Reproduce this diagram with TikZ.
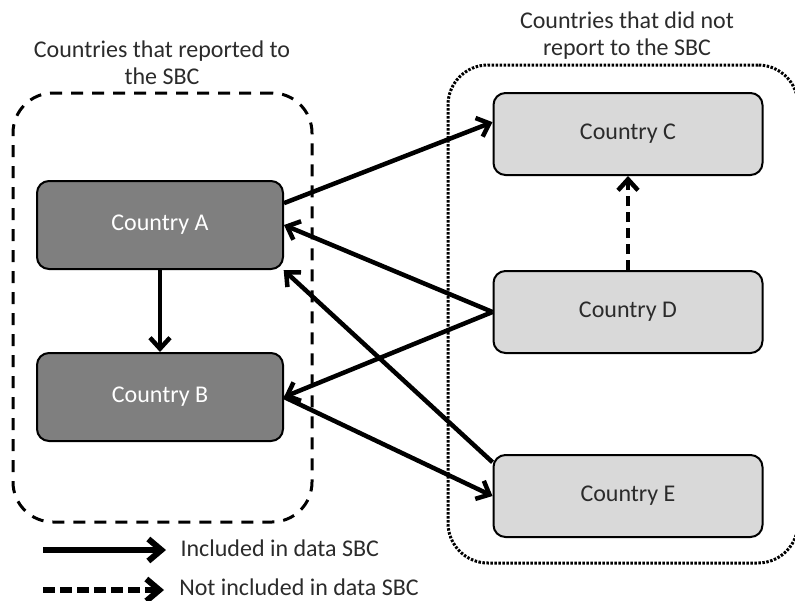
\documentclass[tikz,border=0pt]{standalone}
\usepackage{fontspec}
\setmainfont{Carlito}
\usetikzlibrary{arrows.meta,positioning}

\definecolor{darkbox}{HTML}{7F7F7F}
\definecolor{lightbox}{HTML}{D9D9D9}
\definecolor{labeltext}{HTML}{2B2B2B}

\begin{document}
\begin{tikzpicture}[
    x = 1pt, y = -1pt, % pixel units, y grows downwards
    > = {Straight Barb[length=11pt,width=20pt]}, % arrow head style
    line width = 4.5pt, % line style
    font = \fontsize{24}{27}\selectfont,
    node distance = 82pt % distance between nodes
    ]

    \tikzset{
    country/.style = {draw = black, line width = 2pt, rounded corners = 12pt,
        minimum width = 246pt, minimum height = 88pt},
    reported/.style = {country, fill = darkbox, text = white},
    notreported/.style = {country, fill = lightbox, text = labeltext,
        minimum width = 269pt, minimum height = 82pt},
    group/.style = {draw = black, rounded corners = 40pt, line width = 3pt, inner sep = 0pt},
    heading/.style = {align = center, text = labeltext}
    }
    \useasboundingbox (0,0) rectangle (795,600);

    % the two groups of countries
    \node[group, dash pattern = on 12pt off 9pt,
        minimum width = 299pt, minimum height = 429pt] (reportgroup) at (162.5,307.5) {};
    \node[group, dash pattern = on 2.5pt off 1.5pt,
        minimum width = 350pt, minimum height = 498pt] (silentgroup) at (623,314) {};
    \node[heading] (reporttitle) at (162,63) {Countries that reported to\\the SBC};
    \node[heading] (silenttitle) at (627,36) {Countries that did not\\report to the SBC};

    \node[reported] (A) at (160,225) {Country A};
    \node[reported] (B) [below=of A] {Country B};
    \node[notreported] (C) at (628,134) {Country C};
    \node[notreported] (D) [below=94pt of C] {Country D};
    \node[notreported] (E) [below=100pt of D] {Country E};

    \path[->] (A.10) edge (C.175);
    \path[->] (D.west) edge (A.east);
    \path[->] (D.west) edge (B.east);
    \path[->] (E.166) edge (A.-20);
    \path[->] (B.east) edge (E.west);
    \path[->] (A) edge (B);
    \path[->, dash pattern = on 10pt off 6pt] (D) edge (C);

    % legend
    \node[anchor = west, text = labeltext] (solidlabel) at (175,548) {Included in data SBC};
    \node[anchor = west, text = labeltext, inner sep = 2pt] (dashedlabel) at (175,587) {Not included in data SBC};
    \coordinate (solidfrom) at (43,550);
    \coordinate (solidto) at (166,550);
    \coordinate (dashedfrom) at (43,590);
    \coordinate (dashedto) at (164,590);
    \draw[-{Straight Barb[length=13pt,width=22pt]}, line width = 6pt] (solidfrom) -- (solidto);
    \draw[-{Straight Barb[length=13pt,width=22pt]}, line width = 6pt,
        dash pattern = on 12pt off 5pt] (dashedfrom) -- (dashedto);
\end{tikzpicture}
\end{document}
